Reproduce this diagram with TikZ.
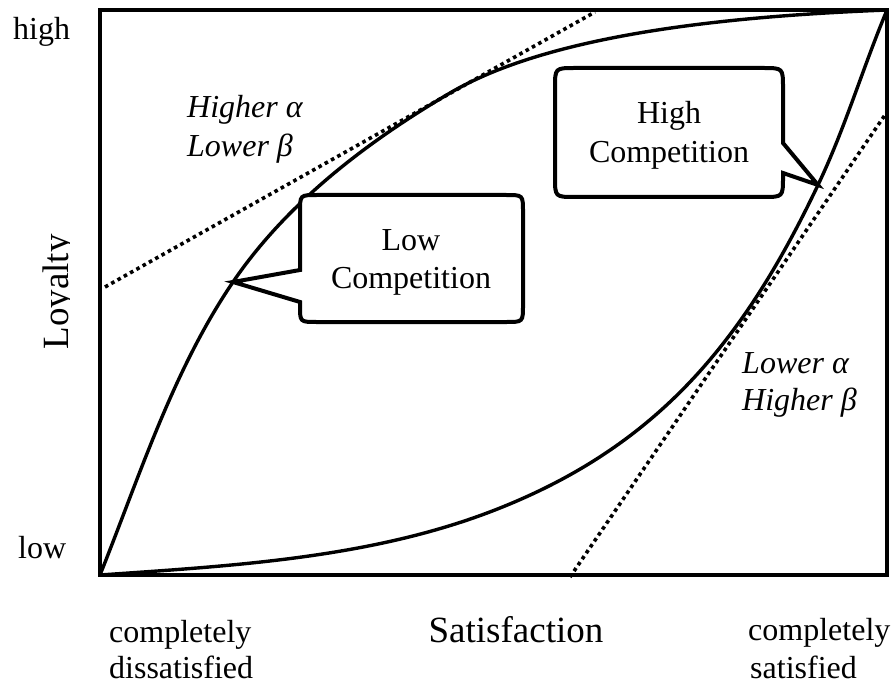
\documentclass[tikz,border=0pt]{standalone}
\usepackage{fontspec}
\setmainfont{Liberation Serif}
\begin{document}
\begin{tikzpicture}[x=1pt,y=-1pt,
  lbl/.style={inner sep=0pt, font=\fontsize{32}{38}\selectfont},
  ilbl/.style={inner sep=0pt, font=\fontsize{32}{38}\selectfont\itshape},
  ttl/.style={inner sep=0pt, font=\fontsize{37}{44}\selectfont},
  curveline/.style={line width=3.4pt, line cap=round},
  tangent/.style={line width=3.6pt, dash pattern=on 3.6pt off 3.6pt},
  callout/.style={line width=4pt, fill=white, line join=miter},
  frame/.style={line width=4.5pt, line join=miter}]
\useasboundingbox (0,0) rectangle (894,687);

% axes frame
\coordinate (O) at (100,575);
\coordinate (TR) at (887,10);
\draw[frame] (100,10) rectangle (887,575);

% tangent dotted lines
\coordinate (t1a) at (105,287);
\coordinate (t1b) at (595,12);
\coordinate (t2a) at (570,577);
\coordinate (t2b) at (887,112);
\draw[tangent] (t1a) -- (t1b);
\draw[tangent] (t2a) -- (t2b);

% upper (concave) curve
\coordinate (u1) at (233,282);
\coordinate (u2) at (450,93);
\draw[curveline] (O) .. controls (139.7,475.7) and (172.9,370.5) .. (u1)
  .. controls (287,202.6) and (367.2,141.7) .. (u2)
  .. controls (553.4,32.2) and (739,15.9) .. (TR);

% lower (convex) curve
\coordinate (l1) at (500,508);
\coordinate (l2) at (818,185);
\draw[curveline] (O) .. controls (234.7,565.6) and (374.7,558.1) .. (l1)
  .. controls (659.6,444.2) and (744,340.3) .. (l2)
  .. controls (845.1,128.1) and (862.7,68.1) .. (TR);

% Low Competition callout
\draw[callout] (u1) -- (300,270) -- (300,212) .. controls (300,195) .. (317,195)
  -- (506,195) .. controls (523,195) .. (523,212) -- (523,305) .. controls (523,322) .. (506,322)
  -- (317,322) .. controls (300,322) .. (300,306) -- (300,302) -- cycle;
\node[lbl, anchor=base] (lowa) at (411,250) {Low};
\node[lbl, anchor=base] (lowb) at (411,288) {Competition};

% High Competition callout
\draw[callout] (l2) -- (783,173) -- (783,177) .. controls (783,197) .. (763,197)
  -- (575,197) .. controls (555,197) .. (555,177) -- (555,88) .. controls (555,68) .. (575,68)
  -- (763,68) .. controls (783,68) .. (783,88) -- (783,143) -- cycle;
\node[lbl, anchor=base] (higha) at (669,124) {High};
\node[lbl, anchor=base] (highb) at (669,163) {Competition};

% curve labels
\node[ilbl, anchor=base west] (ha) at (187,118) {Higher α};
\node[ilbl, anchor=base west] (lb) at (187,157) {Lower β};
\node[ilbl, anchor=base west] (la) at (742,373) {Lower α};
\node[ilbl, anchor=base west] (hb) at (742,410) {Higher β};

% axis labels
\node[lbl, anchor=base west] (hi) at (13,40) {high};
\node[lbl, anchor=base west] (lo) at (18,558) {low};
\begin{scope}
  \clip (0,0) rectangle (69,687);
  \node[ttl, rotate=90, anchor=base] (loy) at (68,292) {Loyalty};
\end{scope}
\node[ttl, anchor=base] (sat) at (516,642) {Satisfaction};
\node[lbl, anchor=base west] (cd1) at (109,642) {completely};
\node[lbl, anchor=base west] (cd2) at (109,678) {dissatisfied};
\node[lbl, anchor=base west] (cs1) at (748,640) {completely};
\node[lbl, anchor=base west] (cs2) at (750,678) {satisfied};
\end{tikzpicture}
\end{document}
